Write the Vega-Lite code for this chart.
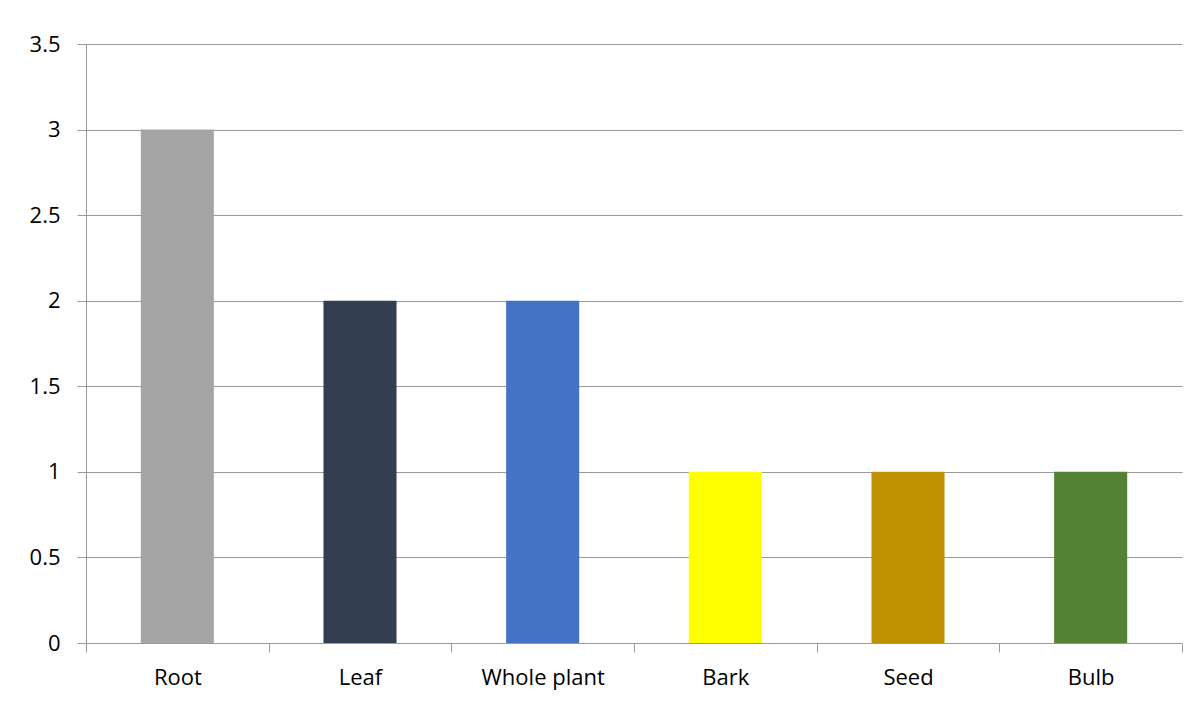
{
  "$schema": "https://vega.github.io/schema/vega-lite/v6.json",
  "autosize": {"type": "none"},
  "width": 1096,
  "height": 599,
  "padding": {"left": 86, "top": 44, "right": 16, "bottom": 61},
  "background": "white",
  "data": {"values": [
    {"part": "Root", "value": 3, "color": "#a5a5a5"},
    {"part": "Leaf", "value": 2, "color": "#333f50"},
    {"part": "Whole plant", "value": 2, "color": "#4472c4"},
    {"part": "Bark", "value": 1, "color": "#ffff00"},
    {"part": "Seed", "value": 1, "color": "#bf9000"},
    {"part": "Bulb", "value": 1, "color": "#548235"}
  ]},
  "mark": {"type": "bar", "width": {"band": 0.4}},
  "encoding": {
    "x": {
      "field": "part", "type": "nominal", "sort": null,
      "scale": {"paddingInner": 0, "paddingOuter": 0},
      "axis": {
        "title": null, "labelAngle": 0, "tickBand": "extent",
        "domain": false, "tickColor": "#999999", "tickSize": 9,
        "labelPadding": 15, "labelFontSize": 22, "labelFont": "Open Sans",
        "labelColor": "#000000", "labelBaseline": "top"
      }
    },
    "y": {
      "field": "value", "type": "quantitative",
      "scale": {"domain": [0, 3.5]},
      "axis": {
        "title": null, "values": [0, 0.5, 1, 1.5, 2, 2.5, 3, 3.5],
        "format": "~g",
        "grid": true, "gridColor": "#999999", "domain": true,
        "domainColor": "#999999", "tickColor": "#999999", "tickSize": 9,
        "labelPadding": 17, "labelFontSize": 22, "labelFont": "Open Sans",
        "labelColor": "#000000"
      }
    },
    "color": {"field": "color", "type": "nominal", "scale": null, "legend": null}
  },
  "config": {"view": {"stroke": null}}
}
